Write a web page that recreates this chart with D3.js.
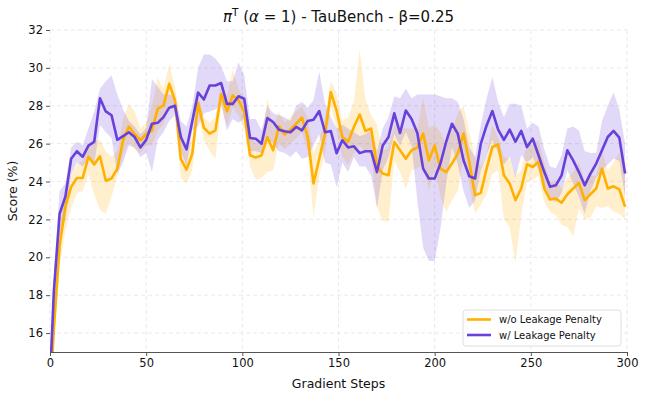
<!DOCTYPE html>
<html><head><meta charset="utf-8">
<script src="https://cdn.jsdelivr.net/npm/d3@7"></script>
<style>
html,body{margin:0;padding:0;background:#fff;}
svg{display:block;font-family:"DejaVu Sans",sans-serif;}
</style></head>
<body><svg id="chart" width="647" height="399"></svg>
<script>
const steps = [0,2,5,8,11,14,17,20,23,26,29,32,35,38,41,44,47,50,53,56,59,62,65,68,71,74,77,80,83,86,89,92,95,98,101,104,107,110,113,116,119,122,125,128,131,134,137,140,143,146,149,152,155,158,161,164,167,170,173,176,179,182,185,188,191,194,197,200,203,206,209,212,215,218,221,224,227,230,233,236,239,242,245,248,251,254,257,260,263,266,269,272,275,278,281,284,287,290,293,296,299];

const noPenalty = [12.5,16.2,20.6,22.67,23.72,24.19,24.19,25.3,24.9,25.33,24.04,24.16,24.68,26.18,26.9,26.5,26.18,26.5,26.7,27.84,28.02,29.16,28.28,25.2,24.63,25.47,28.14,26.84,26.53,26.7,28.6,27.7,28.54,28.3,27.67,25.39,25.26,25.39,26.35,25.65,26.91,26.49,26.74,27.05,27.37,26.35,23.9,25.2,26.53,28.72,27.75,26.35,26.1,26.88,27.54,26.67,26.8,24.8,24.42,24.33,26.09,25.65,25.2,25.65,25.79,26.53,25.12,25.9,24.68,24.5,24.95,25.47,26.53,25.04,23.28,23.4,24.68,25.82,25.96,24.33,23.9,23.02,23.63,24.91,24.77,25.04,23.63,23.05,23.1,22.88,23.33,23.63,23.93,23.02,23.33,23.63,24.68,23.63,23.75,23.58,22.67];
const noPenaltyUpper = [12.8,17.0,21.6,23.3,24.4,24.9,25.1,25.8,26.1,26.2,25.6,25.3,25.6,27.3,28.1,27.7,26.8,27.1,28.0,29.5,28.9,30.2,29.0,26.8,25.6,26.3,28.6,27.4,27.1,27.4,29.2,28.5,29.9,28.9,28.4,26.4,26.0,26.1,28.4,26.8,27.7,27.1,27.4,27.7,28.0,27.3,25.5,26.2,27.4,29.3,28.7,27.2,27.4,28.2,31.0,28.3,27.5,27.0,25.6,25.8,27.0,26.8,26.8,26.8,26.8,28.4,26.8,27.0,26.6,25.9,26.7,27.6,28.0,26.6,25.3,24.8,25.4,27.0,26.3,25.3,25.2,24.3,24.6,26.0,25.9,26.2,25.0,24.0,24.0,23.6,24.2,24.5,25.0,24.0,24.3,24.3,25.6,24.6,25.0,25.5,24.7];
const noPenaltyLower = [12.2,15.4,19.6,21.4,22.6,23.4,23.5,24.4,23.3,22.5,22.3,23.2,24.3,25.4,26.1,25.7,25.5,25.9,25.9,26.7,27.0,28.1,27.6,24.2,23.9,24.6,27.6,26.2,25.6,25.2,28.0,26.9,27.9,27.5,26.8,24.8,24.1,24.2,24.5,24.6,26.0,25.7,26.0,26.3,26.6,25.6,22.1,24.3,25.5,28.0,26.7,25.3,24.9,25.5,25.9,25.6,25.4,22.7,21.9,21.9,25.1,24.5,23.6,24.6,24.7,24.9,23.5,24.8,23.2,22.4,23.0,23.5,25.3,23.8,22.3,22.8,23.3,24.4,24.6,22.0,21.6,19.7,22.2,24.0,24.1,24.3,22.9,22.4,22.2,21.7,21.6,21.1,22.6,22.0,22.1,22.7,22.6,22.7,22.4,22.3,22.0];

const withPenalty = [13.5,18.2,22.3,23.2,25.2,25.6,25.3,25.9,26.1,28.4,27.7,27.5,26.2,26.4,26.6,26.35,25.8,26.2,27.05,27.1,27.4,27.9,28.0,26.35,25.7,27.2,28.7,28.33,29.07,29.07,29.2,28.1,28.1,28.5,28.37,26.3,26.26,26.0,27.35,27.14,26.74,26.65,26.6,26.88,26.7,27.2,27.26,27.72,26.6,26.67,25.5,26.18,25.8,25.86,25.5,25.6,25.6,24.5,25.9,26.35,27.6,26.56,27.75,27.3,26.56,24.68,24.16,24.16,24.95,26.1,27.05,26.53,25.12,24.28,24.16,26.0,26.96,27.72,26.74,26.2,26.74,26.1,26.67,25.82,26.26,25.39,24.5,23.72,23.8,24.33,25.65,25.12,24.5,23.8,24.42,24.95,25.65,26.35,26.67,26.32,24.42];
const withPenaltyUpper = [13.8,19.0,23.5,23.9,25.8,26.1,25.9,26.8,27.7,28.9,29.3,29.6,28.6,27.8,27.2,26.9,26.5,26.8,29.4,29.0,28.6,28.6,28.5,27.2,26.9,28.0,30.0,30.7,30.7,30.5,30.1,29.3,29.3,30.3,29.6,27.3,27.3,26.7,28.0,27.6,27.5,27.4,27.2,28.0,28.2,27.9,28.3,29.8,28.1,27.4,26.8,27.0,26.8,26.6,26.4,26.5,26.7,25.6,26.8,27.4,28.5,28.4,28.9,28.4,28.6,28.6,28.6,28.6,28.5,28.4,28.4,28.2,27.3,25.8,25.3,27.0,28.4,29.5,28.2,27.4,28.1,28.1,28.0,26.8,27.1,26.9,25.7,24.8,24.7,25.4,26.8,26.9,26.7,25.6,25.5,25.5,27.2,28.0,28.7,27.8,26.0];
const withPenaltyLower = [13.2,17.2,21.1,22.0,24.4,25.0,24.8,25.2,24.9,27.0,26.6,26.3,24.4,25.0,25.9,25.8,25.3,25.5,24.5,26.2,26.6,27.2,27.5,25.6,24.8,26.7,26.9,27.6,27.7,27.8,28.1,26.7,27.3,27.1,27.3,25.6,25.6,25.5,26.3,26.0,25.6,25.5,25.3,25.6,25.2,25.3,25.9,26.5,25.0,24.9,23.7,25.0,24.5,25.3,24.8,24.8,24.3,22.6,24.6,25.3,26.5,25.9,26.6,25.9,23.0,20.5,19.8,19.8,21.5,23.9,25.8,24.9,23.5,22.6,23.0,24.6,25.4,26.2,25.5,24.9,25.3,24.2,25.4,25.0,25.3,24.6,23.8,23.1,22.9,23.4,24.6,23.9,23.2,22.3,23.5,24.2,24.6,24.9,25.2,25.1,23.2];

const xTicks = [0,50,100,150,200,250,300];
const yTicks = [16,18,20,22,24,26,28,30,32];
const seriesNames = ["w/o Leakage Penalty","w/ Leakage Penalty"];
const seriesColors = ["#FFB000","#6741D9"];

const svg = d3.select("#chart");
const M = {left:50, right:627, top:30, bottom:352};
const x = d3.scaleLinear().domain([0,300]).range([M.left, M.right]);
const y = d3.scaleLinear().domain([15,32]).range([M.bottom, M.top]);

svg.append("defs").append("clipPath").attr("id","clip")
  .append("rect").attr("x",M.left).attr("y",M.top).attr("width",M.right-M.left).attr("height",M.bottom-M.top);

// grid
const grid = svg.append("g");
grid.selectAll("line.h").data(yTicks).join("line")
  .attr("x1",M.left).attr("x2",M.right).attr("y1",d=>y(d)).attr("y2",d=>y(d))
  .attr("stroke","#e3e3e3").attr("stroke-width",0.8).attr("stroke-dasharray","4,3");
grid.selectAll("line.v").data(xTicks).join("line")
  .attr("y1",M.top).attr("y2",M.bottom).attr("x1",d=>x(d)).attr("x2",d=>x(d))
  .attr("stroke","#e3e3e3").attr("stroke-width",0.8).attr("stroke-dasharray","4,3");

const plot = svg.append("g").attr("clip-path","url(#clip)");
const series = [
  {vals:noPenalty, lo:noPenaltyLower, hi:noPenaltyUpper},
  {vals:withPenalty, lo:withPenaltyLower, hi:withPenaltyUpper}
];
const area = (s) => d3.area().x((d,i)=>x(steps[i])).y0((d,i)=>y(s.lo[i])).y1((d,i)=>y(s.hi[i]))(s.vals);
const line = d3.line().x((d,i)=>x(steps[i])).y(d=>y(d));
series.forEach((s,j)=>{
  plot.append("path").attr("d",area(s)).attr("fill",seriesColors[j]).attr("fill-opacity",0.2).attr("stroke","none");
});
series.forEach((s,j)=>{
  plot.append("path").attr("d",line(s.vals)).attr("fill","none").attr("stroke",seriesColors[j])
    .attr("stroke-width",2.6).attr("stroke-linejoin","round");
});

// axes
const xAxis = svg.append("g").attr("transform",`translate(0,${M.bottom})`)
  .call(d3.axisBottom(x).tickValues(xTicks).tickSize(4).tickPadding(3));
xAxis.select(".domain").attr("stroke","#555").attr("stroke-width",1);
xAxis.selectAll(".tick line").attr("stroke","#555");
xAxis.selectAll("text").attr("font-size",11.5).attr("fill","#111").attr("font-family","DejaVu Sans");

const yAxis = svg.append("g").attr("transform",`translate(${M.left},0)`)
  .call(d3.axisLeft(y).tickValues(yTicks).tickSize(4).tickPadding(3));
yAxis.select(".domain").remove();
yAxis.selectAll(".tick line").attr("stroke","#555");
yAxis.selectAll("text").attr("font-size",11.5).attr("fill","#111").attr("font-family","DejaVu Sans");

// labels
svg.append("text").attr("x",(M.left+M.right)/2).attr("y",388).attr("text-anchor","middle")
  .attr("font-size",12.5).attr("fill","#111").text("Gradient Steps");
svg.append("text").attr("transform",`translate(17,${(M.top+M.bottom)/2}) rotate(-90)`).attr("text-anchor","middle")
  .attr("font-size",12.5).attr("fill","#111").text("Score (%)");

const t = svg.append("text").attr("x",(M.left+M.right)/2).attr("y",22).attr("text-anchor","middle")
  .attr("font-size",15).attr("fill","#111");
t.append("tspan").attr("font-style","italic").text("π");
t.append("tspan").attr("font-size",10.5).attr("dy",-6).text("T");
t.append("tspan").attr("dy",6).text(" (");
t.append("tspan").attr("font-style","italic").text("α");
t.append("tspan").text(" = 1) - TauBench - β=0.25");

// legend
const lg = svg.append("g");
lg.append("rect").attr("x",463).attr("y",310).attr("width",158).attr("height",36).attr("rx",3)
  .attr("fill","#fff").attr("fill-opacity",0.85).attr("stroke","#d6d6d6").attr("stroke-width",0.8);
seriesNames.forEach((n,i)=>{
  const yy = 319.5 + i*15.5;
  lg.append("line").attr("x1",467).attr("x2",491).attr("y1",yy).attr("y2",yy)
    .attr("stroke",seriesColors[i]).attr("stroke-width",2.6);
  lg.append("text").attr("x",499).attr("y",yy+3.6).attr("font-size",10).attr("fill","#111").text(n);
});
</script></body></html>
